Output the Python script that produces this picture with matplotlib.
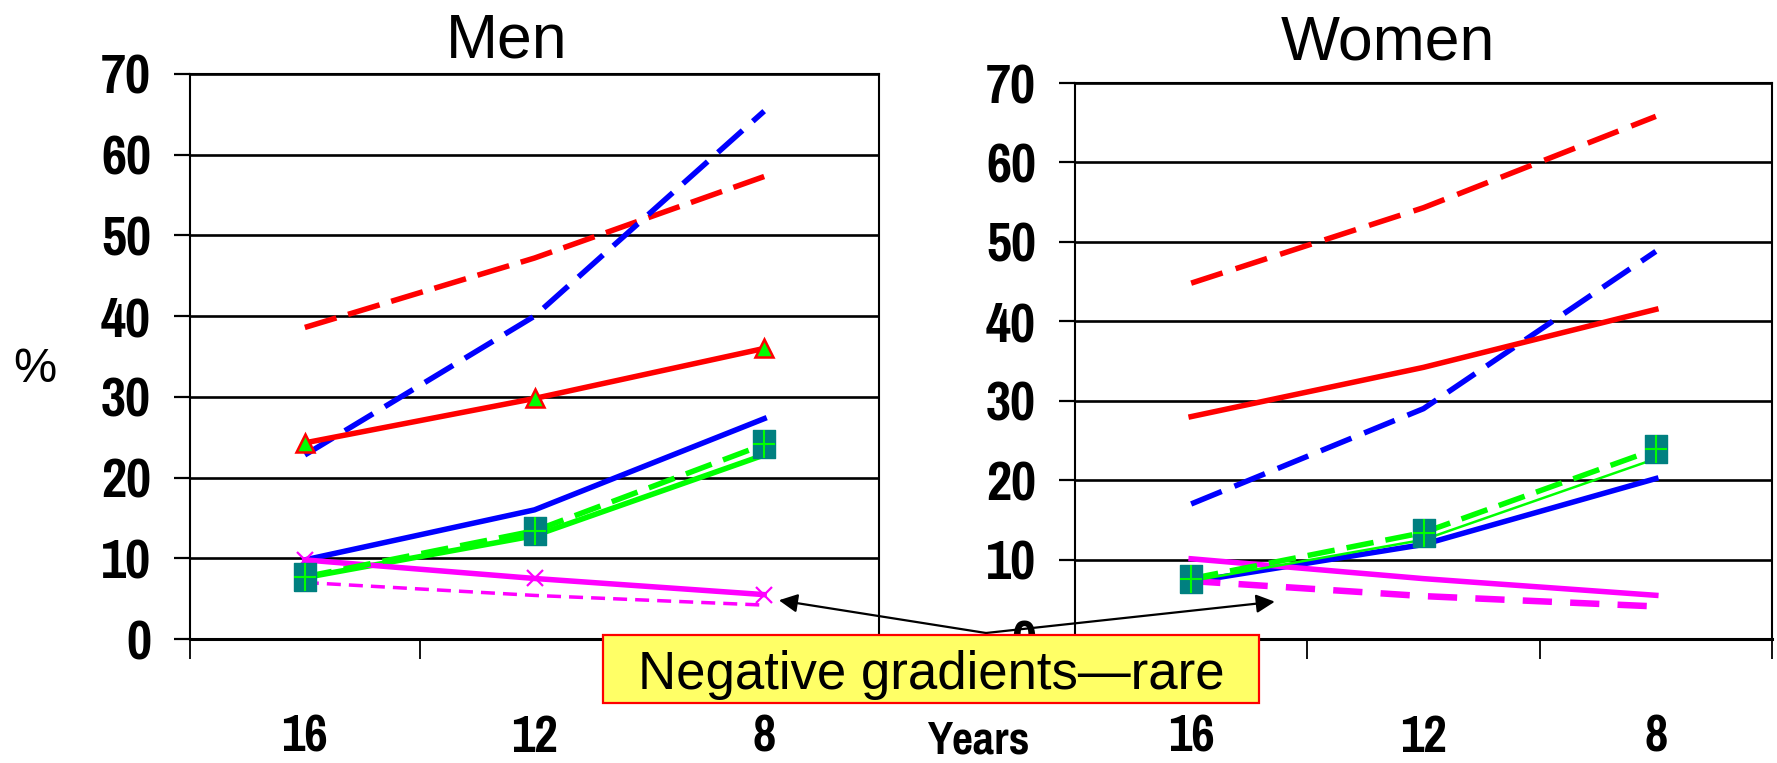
import matplotlib
matplotlib.use('Agg')
import matplotlib.pyplot as plt
from matplotlib import font_manager
from matplotlib.font_manager import FontProperties
from matplotlib.patches import Rectangle
from matplotlib.path import Path

# data
years = ['16', '12', '8']
y_ticks = [0, 10, 20, 30, 40, 50, 60, 70]

men_red_dash = [38.6, 47.2, 57.3]
men_blue_dash = [22.8, 40.0, 65.4]
men_red = [24.3, 29.8, 36.0]
men_blue = [9.8, 16.0, 27.3]
men_green_dash = [7.7, 13.4, 24.1]
men_green = [7.6, 12.8, 22.8]
men_magenta = [9.8, 7.5, 5.5]
men_magenta_dash = [7.0, 5.4, 4.2]

women_red_dash = [44.8, 54.3, 65.8]
women_blue_dash = [17.0, 29.0, 48.8]
women_red = [28.0, 34.2, 41.5]
women_blue = [7.2, 11.9, 20.2]
women_green_dash = [7.6, 13.4, 23.9]
women_green = [7.3, 12.5, 22.7]
women_magenta = [10.1, 7.6, 5.5]
women_magenta_dash = [7.3, 5.4, 4.1]

plt.rcParams['font.family'] = ['Liberation Sans', 'DejaVu Sans']

# look for a narrow bold face for the tick labels, else plain bold
narrow_file = None
for key in ('Narrow-Bold', 'NarrowBold', 'Condensed-Bold', 'CondensedBold', 'Condensed_Bold'):
    for f in font_manager.fontManager.ttflist:
        if key in f.fname and 'Oblique' not in f.fname and 'Italic' not in f.fname:
            narrow_file = f.fname
            break
    if narrow_file:
        break


def tick_font(size):
    if narrow_file:
        return FontProperties(fname=narrow_file, size=size)
    return FontProperties(family='Liberation Sans', weight='bold', size=size * 0.93)


W, H = 1777, 763
fig = plt.figure(figsize=(W / 100, H / 100), dpi=100)

# taller-than-wide square marker and matching plus
rect_marker = Path([(-0.4, -0.5), (0.4, -0.5), (0.4, 0.5), (-0.4, 0.5), (-0.4, -0.5)])
plus_marker = Path([(-0.4, 0), (0.4, 0), (0, -0.5), (0, 0.5)],
                   [Path.MOVETO, Path.LINETO, Path.MOVETO, Path.LINETO])

RED, BLUE, GREEN, MAG, TEAL = '#FF0000', '#0000FF', '#00FF00', '#FF00FF', '#008080'


def px(v):
    return v * 72 / 100


def setup_axes(ax):
    x = range(len(years))
    ax.set_xlim(-0.5, len(years) - 0.5)
    ax.set_ylim(0, 70)
    ax.set_yticks(y_ticks)
    ax.set_yticklabels([str(t) for t in y_ticks], fontproperties=tick_font(43))
    ax.set_xticks(list(x))
    ax.set_xticklabels(years, fontproperties=tick_font(40))
    ax.set_xticks([i - 0.5 for i in range(len(years) + 1)], minor=True)
    ax.tick_params(axis='x', which='major', length=0, pad=px(75))
    ax.tick_params(axis='x', which='minor', length=px(20), width=1.3, direction='out')
    ax.tick_params(axis='y', length=px(16), width=1.6, direction='out', pad=px(23))
    ax.yaxis.grid(True, color='black', linewidth=1.9)
    ax.set_axisbelow(True)
    for s in ax.spines.values():
        s.set_linewidth(1.5)
    ax.spines['bottom'].set_linewidth(2.2)
    return list(x)


ax1 = fig.add_axes([190 / W, 1 - 639 / H, 689 / W, 565 / H])
ax2 = fig.add_axes([1075 / W, 1 - 639 / H, 697 / W, 556 / H])

x = setup_axes(ax1)
lw = px(5.5)
ax1.plot(x, men_red_dash, color=RED, lw=lw, dashes=(6, 2.2))
ax1.plot(x, men_blue_dash, color=BLUE, lw=lw, dashes=(6, 2.5))
ax1.plot(x, men_red, color=RED, lw=lw, marker='^', ms=px(18),
         mfc=GREEN, mec=RED, mew=1.8)
ax1.plot(x, men_blue, color=BLUE, lw=lw)
ax1.plot(x, men_green, color=GREEN, lw=lw)
ax1.plot(x, men_magenta_dash, color=MAG, lw=px(3.5), dashes=(4, 2.3))
ax1.plot(x, men_magenta, color=MAG, lw=lw, marker='x', ms=px(16), mew=1.6)
ax1.plot(x, men_green_dash, color=GREEN, lw=lw, dashes=(5, 2.2),
         marker=rect_marker, ms=px(28), mfc=TEAL, mec=TEAL)
ax1.plot(x, men_green_dash, ls='none', marker=plus_marker, ms=px(28),
         mfc='none', mec=GREEN, mew=1.5)

x = setup_axes(ax2)
ax2.plot(x, women_red_dash, color=RED, lw=lw, dashes=(6, 2.5))
ax2.plot(x, women_blue_dash, color=BLUE, lw=lw, dashes=(6, 2.5))
ax2.plot(x, women_red, color=RED, lw=lw)
ax2.plot(x, women_blue, color=BLUE, lw=lw)
ax2.plot(x, women_magenta, color=MAG, lw=lw)
ax2.plot(x, women_magenta_dash, color=MAG, lw=px(6.5), dashes=(4.5, 2.8))
ax2.plot(x, women_green, color=GREEN, lw=px(2.5))
ax2.plot(x, women_green_dash, color=GREEN, lw=lw, dashes=(5, 2.2),
         marker=rect_marker, ms=px(28), mfc=TEAL, mec=TEAL)
ax2.plot(x, women_green_dash, ls='none', marker=plus_marker, ms=px(28),
         mfc='none', mec=GREEN, mew=1.5)

# titles and axis captions
fig.text(507 / W, 1 - 57 / H, 'Men', ha='center', va='baseline', fontsize=45)
fig.text(1388 / W, 1 - 59 / H, 'Women', ha='center', va='baseline', fontsize=45)
fig.text(35 / W, 1 - 370 / H, '%', ha='center', va='center', fontsize=35)
fig.text(978 / W, 1 - 754 / H, 'Years', ha='center', va='baseline',
         fontproperties=tick_font(36))

# callout box with arrows
start = (986 / W, 1 - 633 / H)
arrow = dict(arrowstyle='-|>', color='black', lw=1.6, mutation_scale=28,
             shrinkA=0, shrinkB=0)
ax1.annotate('', xy=(2.064, 4.8), xycoords='data', xytext=start,
             textcoords='figure fraction', arrowprops=arrow, annotation_clip=False)
ax2.annotate('', xy=(0.36, 4.7), xycoords='data', xytext=start,
             textcoords='figure fraction', arrowprops=arrow, annotation_clip=False)
box = Rectangle((603 / W, 1 - 703 / H), 656 / W, 68 / H, transform=fig.transFigure,
                facecolor='#FFFF66', edgecolor=RED, lw=1.6, zorder=10)
fig.add_artist(box)
fig.text(931 / W, 1 - 689 / H, 'Negative gradients\u2014rare', ha='center',
         va='baseline', fontsize=38, zorder=11)

fig.savefig('out.png', dpi=100)
